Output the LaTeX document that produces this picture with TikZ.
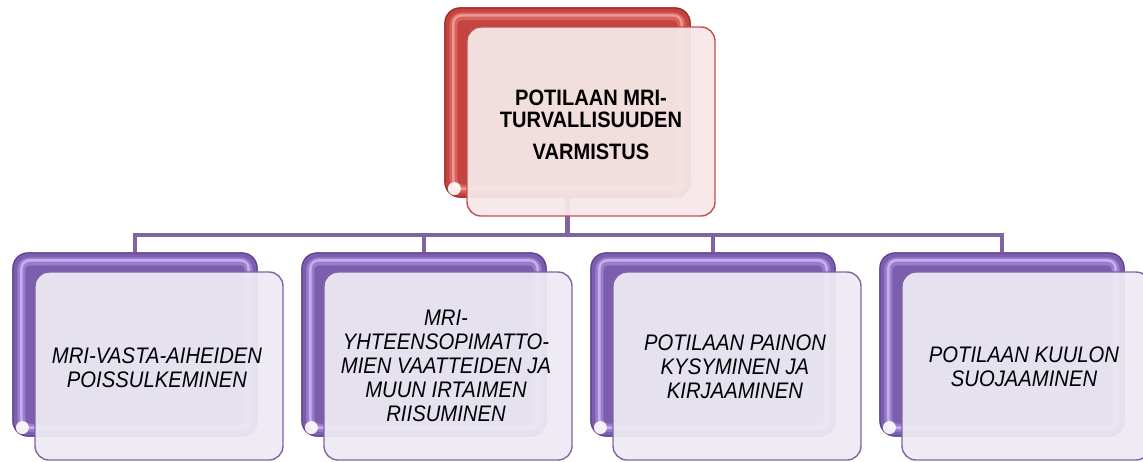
\documentclass[tikz,border=0pt]{standalone}
\usepackage{fontspec}
\setmainfont{Liberation Sans}
\newfontfamily\narrowsans[FakeStretch=0.9]{Liberation Sans}
\usetikzlibrary{calc}
\definecolor{pur}{HTML}{7D5EAE}
\definecolor{purD}{HTML}{5E4490}
\definecolor{purL}{HTML}{9A7DCC}
\definecolor{purHL}{HTML}{C9B4F0}
\definecolor{purF}{HTML}{EDEAF3}
\definecolor{purFrame}{HTML}{8064A2}
\definecolor{purLine}{HTML}{8064A2}
\definecolor{red}{HTML}{C4443F}
\definecolor{redD}{HTML}{A02A27}
\definecolor{redL}{HTML}{D9625E}
\definecolor{redHL}{HTML}{F09C99}
\definecolor{redF}{HTML}{F6E8E8}
\definecolor{redFrame}{HTML}{C0504D}
\begin{document}
\begin{tikzpicture}[x=1pt,y=-1pt,
  backbox/.style={rounded corners=15pt, inner sep=0pt, draw=#1D, line width=1.2pt, fill=#1},
  tube/.style={draw=#1L, line width=8pt, rounded corners=8pt},
  tubehl/.style={draw=#1HL, line width=2.5pt, rounded corners=8pt, opacity=0.9},
  frontbox/.style={rounded corners=14pt, inner sep=0pt, minimum width=248pt,
    draw=#1Frame, line width=1.4pt, fill=#1F, fill opacity=0.94},
  curl/.style={fill=white, opacity=0.9},
  conn/.style={draw=purLine, line width=4.5pt},
  toptext/.style={align=center, font=\narrowsans\fontsize{22.3pt}{21.7pt}\selectfont\bfseries},
  childtext/.style={align=center, font=\narrowsans\fontsize{22.5pt}{24pt}\selectfont\itshape},
]
\useasboundingbox (0,0) rectangle (1143,461);

% back boxes (nodes)
\node[backbox=red, minimum width=245pt, minimum height=189pt] (tb) at (567.5,102.5) {};
\foreach \i/\x in {1/13,2/302,3/591,4/880}{
  \node[backbox=pur, minimum width=244pt, minimum height=183pt] (c\i) at (\x+122,344.5) {};
}

% connectors
\coordinate (bus) at (0,235);
\foreach \i in {1,2,3,4}{
  \draw[conn] (tb.south) -- (tb.south |- bus) -| (c\i.north);
}

% back boxes with tube bevel
\node[backbox=red, minimum width=245pt, minimum height=189pt] at (tb) {};
\draw[tube=red] ($(tb.north west)+(9,9)$) rectangle ($(tb.south east)+(-9,-9)$);
\draw[tubehl=red] ($(tb.north west)+(9,8)$) rectangle ($(tb.south east)+(-9,-9)$);
\fill[curl] ($(tb.south west)+(10,-9)$) circle (6.5pt);
\foreach \i in {1,2,3,4}{
  \node[backbox=pur, minimum width=244pt, minimum height=183pt] at (c\i) {};
  \draw[tube=pur] ($(c\i.north west)+(9,9)$) rectangle ($(c\i.south east)+(-9,-9)$);
  \draw[tubehl=pur] ($(c\i.north west)+(9,8)$) rectangle ($(c\i.south east)+(-9,-9)$);
  \fill[curl] ($(c\i.south west)+(10,-9)$) circle (6.5pt);
}

% front boxes
\node[frontbox=red, minimum height=189pt] (tf) at (591,121.5) {};
\foreach \i/\x in {1/13,2/302,3/591,4/880}{
  \node[frontbox=pur, minimum height=188pt] (f\i) at (\x+146,366) {};
}

% texts
\node[toptext] (tt) at (591,125) {POTILAAN MRI-\\TURVALLISUUDEN\\[11pt]VARMISTUS};
\node[childtext] (t1) at (157,367.5) {MRI-VASTA-AIHEIDEN\\POISSULKEMINEN};
\node[childtext] (t2) at (446,366) {MRI-\\YHTEENSOPIMATTO-\\MIEN VAATTEIDEN JA\\MUUN IRTAIMEN\\RIISUMINEN};
\node[childtext] (t3) at (735,367) {POTILAAN PAINON\\KYSYMINEN JA\\KIRJAAMINEN};
\node[childtext] (t4) at (1024,367) {POTILAAN KUULON\\SUOJAAMINEN};
\end{tikzpicture}
\end{document}
